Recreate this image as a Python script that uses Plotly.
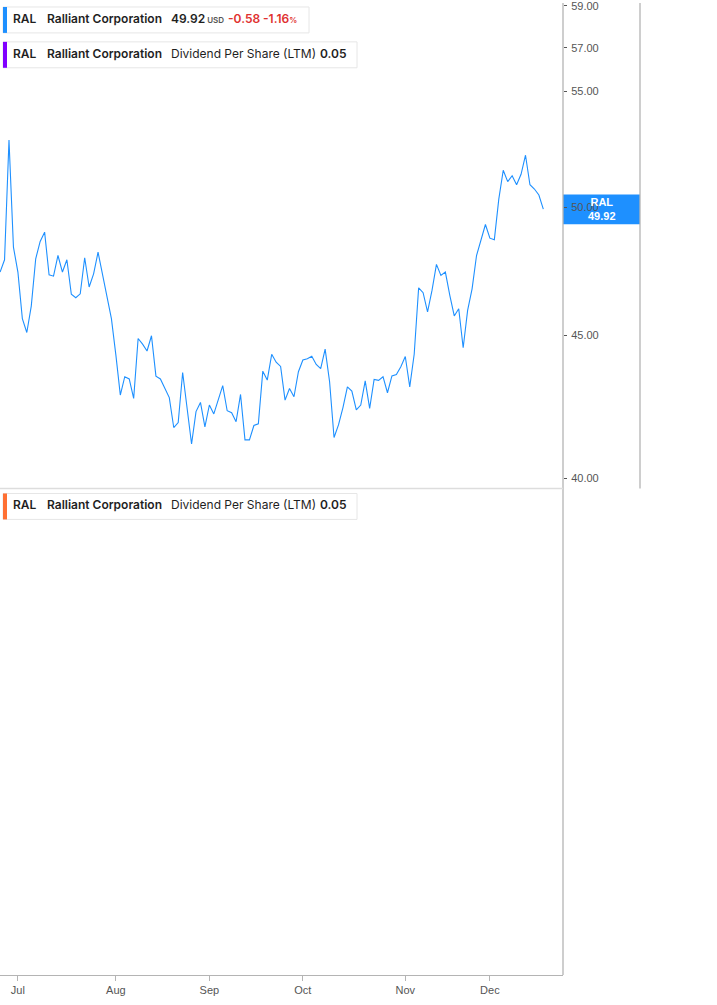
import math
import pandas as pd
import plotly.graph_objects as go

# ---------------- data ----------------
holidays = ["2025-07-04", "2025-09-01", "2025-11-27"]
dates = [d.strftime("%Y-%m-%d") for d in
         pd.bdate_range("2025-06-25", "2025-12-17", freq="C", holidays=holidays)]

close = [
    47.40, 47.88, 52.84, 48.38, 47.40, 45.62, 45.10, 46.09, 47.92, 48.61,
    48.98, 47.29, 47.24, 48.05, 47.40, 47.88, 46.54, 46.41, 46.56, 47.96,
    46.82, 47.33, 48.18, 47.27, 46.46, 45.62, 44.28, 42.84, 43.49, 43.41,
    42.72, 44.88, 44.67, 44.42, 44.98, 43.51, 43.41, 43.10, 42.75, 41.71,
    41.88, 43.64, 42.33, 41.15, 42.26, 42.58, 41.73, 42.49, 42.18, 42.70,
    43.17, 42.29, 42.22, 41.91, 42.86, 41.29, 41.29, 41.78, 41.84, 43.69,
    43.37, 44.30, 44.01, 43.86, 42.66, 43.07, 42.78, 43.67, 44.09, 44.14,
    44.23, 43.93, 43.78, 44.49, 43.31, 41.37, 41.80, 42.40, 43.13, 42.98,
    42.32, 42.49, 43.34, 42.37, 43.39, 43.36, 43.49, 42.92, 43.52, 43.57,
    43.85, 44.22, 43.13, 44.30, 46.79, 46.60, 45.87, 46.69, 47.70, 47.27,
    47.40, 46.50, 45.72, 45.99, 44.54, 45.93, 46.75, 48.05, 48.71, 49.29,
    48.74, 48.68, 50.33, 51.54, 51.06, 51.31, 50.93, 51.37, 52.18, 50.93,
    50.75, 50.50, 49.92,
]

month_ticks = ["2025-07-01", "2025-08-01", "2025-09-02", "2025-10-01", "2025-11-03", "2025-12-01"]
month_labels = ["Jul", "Aug", "Sep", "Oct", "Nov", "Dec"]

y_ticks = [40, 45, 50, 55, 57, 59]
y_labels = ["40.00", "45.00", "50.00", "55.00", "57.00", "59.00"]

ticker = "RAL"
company = "Ralliant Corporation"
last_price = "49.92"
change = "-0.58"
change_pct = "-1.16"
dps_label = "Dividend Per Share (LTM)"
dps_value = "0.05"

# ---------------- layout helpers ----------------
W_PLOT = 563.0
H_PLOT = 975.0
def px(x):
    return x / W_PLOT
def py(y):
    return 1 - y / H_PLOT

SPLIT = py(487)
BLUE = "#1e90ff"
FONT = "Inter"
TICKFONT = "Liberation Sans"

fig = go.Figure()
fig.add_trace(go.Scatter(
    x=dates, y=close, mode="lines",
    line=dict(color=BLUE, width=1.1), hoverinfo="skip", showlegend=False,
))

fig.update_layout(
    width=717, height=1005,
    margin=dict(l=0, r=154, t=0, b=30),
    paper_bgcolor="white", plot_bgcolor="white",
    showlegend=False,
    xaxis=dict(
        type="category", range=[-0.02, 126.42],
        anchor="free", position=0,
        tickmode="array", tickvals=month_ticks, ticktext=month_labels,
        showgrid=False, zeroline=False,
        showline=True, linecolor="#b4b4b4", linewidth=1,
        ticks="outside", ticklen=5, tickcolor="#b4b4b4",
        tickfont=dict(family=TICKFONT, size=11, color="#555"),
    ),
    yaxis=dict(
        type="log", domain=[SPLIT, 1],
        range=[math.log10(39.67), math.log10(59.14)],
        side="right",
        tickmode="array", tickvals=y_ticks, ticktext=y_labels,
        showgrid=False, zeroline=False, showline=False,
        ticks="outside", ticklen=3, tickcolor="#555",
        ticklabeloverflow="allow", ticklabelstandoff=2,
        tickfont=dict(family=TICKFONT, size=11, color="#555"),
    ),
)

shapes = []
# vertical axis line (full height)
shapes.append(dict(type="line", xref="paper", yref="paper", x0=1, x1=1, y0=0, y1=1,
                   line=dict(color="#b4b4b4", width=1.3)))
# right border of price scale (upper pane)
shapes.append(dict(type="line", xref="paper", yref="paper", x0=px(640), x1=px(640), y0=SPLIT, y1=1,
                   line=dict(color="#b4b4b4", width=1.3)))
# pane separator
shapes.append(dict(type="line", xref="paper", yref="paper", x0=0, x1=1, y0=SPLIT, y1=SPLIT,
                   line=dict(color="#dddddd", width=1.5)))
# price label box
shapes.append(dict(type="rect", xref="paper", yref="paper", x0=1, x1=px(640), y0=py(222), y1=py(192),
                   fillcolor=BLUE, line=dict(width=0), layer="below"))

annotations = []

def legend_box(x0, x1, y0, y1, bar_color):
    shapes.append(dict(type="rect", xref="paper", yref="paper", x0=px(x0), x1=px(x1),
                       y0=py(y1), y1=py(y0), fillcolor="white",
                       line=dict(color="#e6e6e6", width=1), layer="above"))
    shapes.append(dict(type="rect", xref="paper", yref="paper", x0=px(x0), x1=px(x0 + 4),
                       y0=py(y1), y1=py(y0), fillcolor=bar_color,
                       line=dict(width=0), layer="above"))

def seg(x, y, text, color="#1f1f1f", size=12, weight=600):
    annotations.append(dict(xref="paper", yref="paper", x=px(x), y=py(y), text=text,
                            showarrow=False, xanchor="left", yanchor="middle",
                            font=dict(family=FONT, size=size, color=color, weight=weight),
                            borderpad=0))

RED = "#e0312f"
Y1, Y2, Y3 = 15.5, 50.5, 503.5
# box 1
legend_box(3, 309, 4, 30, BLUE)
seg(12, Y1, ticker)
seg(46, Y1, company)
seg(170, Y1, f"{last_price}<span style='font-size:8px;color:#555'> USD</span>")
seg(227, Y1, change, color=RED)
seg(262, Y1, f"{change_pct}<span style='font-size:8px'>%</span>", color=RED)
# box 2
legend_box(3, 357, 39, 65, "#8000ff")
seg(12, Y2, ticker)
seg(46, Y2, company)
seg(170, Y2, dps_label, weight=400)
seg(319, Y2, dps_value)
# box 3 (lower pane)
legend_box(3, 357, 492, 518, "#ff7033")
seg(12, Y3, ticker)
seg(46, Y3, company)
seg(170, Y3, dps_label, weight=400)
seg(319, Y3, dps_value)

# price label text
annotations.append(dict(xref="paper", yref="paper", x=px(601.5), y=py(207),
                        text=f"<b>{ticker}<br>{close[-1]:.2f}</b>", showarrow=False,
                        xanchor="center", yanchor="middle",
                        font=dict(family="Liberation Sans", size=11, color="white"),
                        borderpad=0))

fig.update_layout(shapes=shapes, annotations=annotations)
fig.write_html("out.html", config={"displayModeBar": False},
               post_script="document.body.style.margin='0';document.body.style.padding='0';")
